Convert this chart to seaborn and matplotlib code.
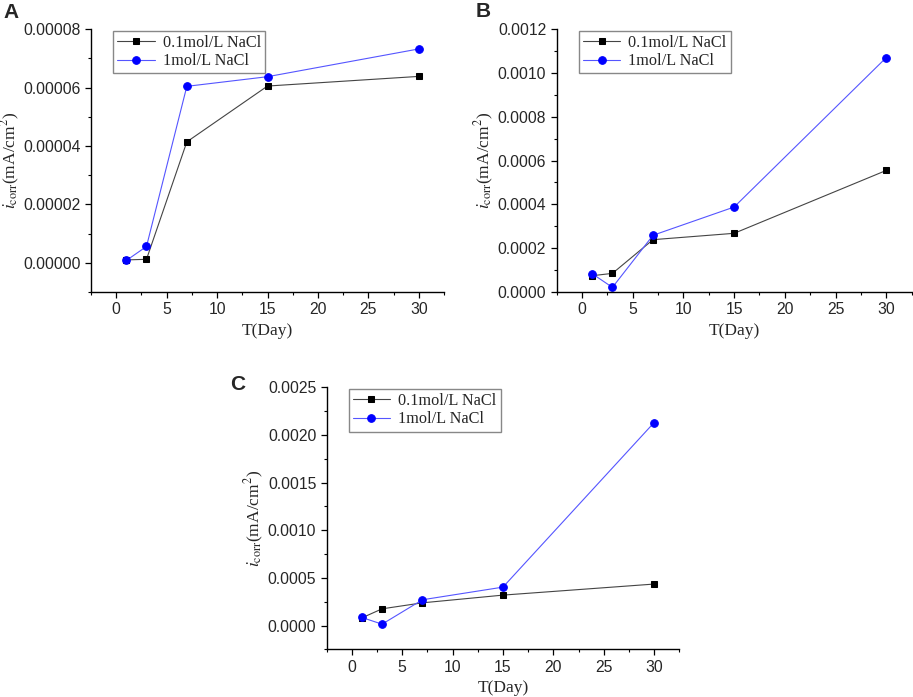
import matplotlib
matplotlib.use("Agg")
import matplotlib.pyplot as plt
import matplotlib.ticker as mticker
import seaborn as sns
import numpy as np

days = [1, 3, 7, 15, 30]
series_names = ["0.1mol/L NaCl", "1mol/L NaCl"]

# panel A
a_low = [0.0000010, 0.0000012, 0.0000414, 0.0000605, 0.0000638]
a_high = [0.0000008, 0.0000056, 0.0000604, 0.0000637, 0.0000732]
# panel B
b_low = [0.0000745, 0.0000852, 0.000239, 0.000268, 0.000555]
b_high = [0.0000837, 0.0000213, 0.000259, 0.000388, 0.00107]
# panel C
c_low = [0.0000806, 0.000175, 0.000238, 0.000319, 0.000435]
c_high = [0.0000842, 0.000014, 0.000270, 0.000403, 0.00213]

sns.set_style("ticks")
plt.rcParams['font.family'] = ['Liberation Sans', 'DejaVu Sans']
plt.rcParams['mathtext.fontset'] = 'stix'

fig = plt.figure(figsize=(9.13, 6.97), dpi=100)

panels = [
    ("A", [0.0997, 0.581, 0.3866, 0.3773], a_low, a_high, (-0.00001, 0.00008), 0.00002, '%.5f', (3, 3)),
    ("B", [0.6097, 0.581, 0.3888, 0.3773], b_low, b_high, (0.0, 0.0012), 0.0002, '%.4f', (476, 2)),
    ("C", [0.3578, 0.0684, 0.3862, 0.3759], c_low, c_high, (-0.00025, 0.0025), 0.0005, '%.4f', (230, 375)),
]

for name, pos, low, high, ylim, ystep, fmt, lab in panels:
    ax = fig.add_axes(pos)
    sns.lineplot(x=days, y=low, ax=ax, color='#444444', lw=0.8, marker='s', markersize=4.8,
                 markerfacecolor='black', markeredgecolor='black', label=series_names[0])
    sns.lineplot(x=days, y=high, ax=ax, color='#5555ff', lw=0.8, marker='o', markersize=5.5,
                 markerfacecolor='blue', markeredgecolor='blue', label=series_names[1])
    ax.set_xlim(-2.5, 32.5)
    ax.xaxis.set_minor_locator(mticker.MultipleLocator(2.5))
    ax.yaxis.set_minor_locator(mticker.MultipleLocator(ystep / 2))
    ax.yaxis.set_major_formatter(mticker.FormatStrFormatter(fmt))
    ax.set_xticks([0, 5, 10, 15, 20, 25, 30])
    ax.set_yticks(np.arange(0, ylim[1] + ystep / 10, ystep))
    ax.set_ylim(*ylim)
    ax.tick_params(which='major', direction='out', length=4, width=0.9, labelsize=11.3, color='black')
    ax.tick_params(which='minor', direction='out', length=2.5, width=0.8, color='black')
    for s in ['left', 'bottom']:
        ax.spines[s].set_linewidth(1.0)
        ax.spines[s].set_color('black')
    sns.despine(ax=ax)
    ax.set_xlabel('T(Day)', family='Liberation Serif', fontsize=12.5, labelpad=4)
    ax.set_ylabel(r'$\mathit{i}_{\rm corr}$(mA/cm$^2$)', family='Liberation Serif', fontsize=12.5, labelpad=1)
    leg = ax.legend(loc='upper left', bbox_to_anchor=(0.058, 1.0), frameon=True, fancybox=False,
                    edgecolor='#888888', framealpha=1, prop={'family': 'Liberation Serif', 'size': 11.7},
                    handlelength=2.3, borderpad=0.25, labelspacing=0.15, handletextpad=0.5, borderaxespad=0.1)
    leg.get_frame().set_linewidth(1.0)
    fig.text(lab[0] / 913, 1 - lab[1] / 697, name, fontsize=15, fontweight='bold', va='top', ha='left')

fig.savefig('out.png', dpi=100)
